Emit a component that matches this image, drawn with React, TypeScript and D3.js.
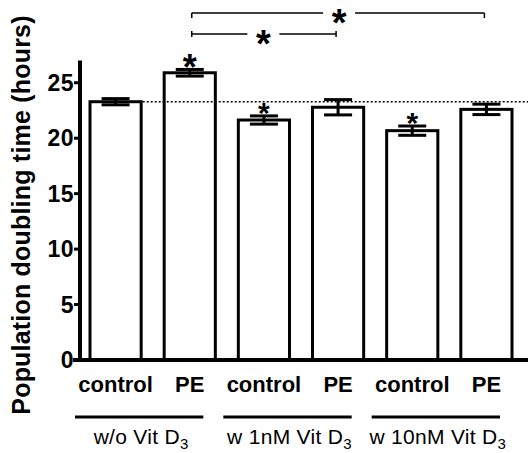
import React, { useRef, useEffect } from 'react';
import * as d3 from 'd3';

const categories = ['control', 'PE', 'control', 'PE', 'control', 'PE'];
const means = [23.29, 25.9, 21.64, 22.79, 20.68, 22.6];
const errors = [0.28, 0.3, 0.37, 0.69, 0.42, 0.47];
const yTicks = [0, 5, 10, 15, 20, 25];
const groupLabels = ['w/o Vit D', 'w 1nM Vit D', 'w 10nM Vit D'];
const groupSub = '3';
const groupBars = [[0, 1], [2, 3], [4, 5]];
const starredBars = [1, 2, 4];
const brackets = [
  { from: 1, to: 5 },
  { from: 1, to: 3 },
];

const W = 528;
const H = 453;
const FONT = '"Liberation Sans", Arial, sans-serif';

const App = () => {
  const svgRef = useRef<SVGSVGElement>(null);

  useEffect(() => {
    const svg = d3.select(svgRef.current);
    svg.selectAll('*').remove();

    const x = d3.scaleBand<number>()
      .domain(d3.range(categories.length))
      .range([90, 512])
      .paddingInner(0.31)
      .paddingOuter(0);
    const bw = x.bandwidth();
    const cx = (i: number) => (x(i) as number) + bw / 2;

    const y = d3.scaleLinear().domain([0, 27]).range([360, 360 - 27 * 11.09]);

    // bars
    svg.append('g')
      .selectAll('rect')
      .data(means)
      .enter()
      .append('rect')
      .attr('x', (d, i) => x(i) as number)
      .attr('y', d => y(d))
      .attr('width', bw)
      .attr('height', d => y(0) - y(d))
      .attr('fill', 'white')
      .attr('stroke', 'black')
      .attr('stroke-width', 3);

    // error bars
    const capW = 28;
    const eb = svg.append('g').attr('stroke', 'black').attr('stroke-width', 3);
    means.forEach((m, i) => {
      const hi = y(m + errors[i]);
      const lo = y(m - errors[i]);
      eb.append('line').attr('x1', cx(i)).attr('x2', cx(i)).attr('y1', hi).attr('y2', lo);
      eb.append('line').attr('x1', cx(i) - capW / 2).attr('x2', cx(i) + capW / 2).attr('y1', hi).attr('y2', hi);
      eb.append('line').attr('x1', cx(i) - capW / 2).attr('x2', cx(i) + capW / 2).attr('y1', lo).attr('y2', lo);
    });

    // dotted reference at control level
    svg.append('line')
      .attr('x1', (x(0) as number) + bw + 1.5)
      .attr('x2', W)
      .attr('y1', y(means[0]))
      .attr('y2', y(means[0]))
      .attr('stroke', 'black')
      .attr('stroke-width', 1.5)
      .attr('stroke-dasharray', '2,2');

    // y axis
    const yAxis = svg.append('g').attr('transform', 'translate(80,0)');
    yAxis.append('line')
      .attr('x1', 0).attr('x2', 0)
      .attr('y1', y(27)).attr('y2', y(0) + 2)
      .attr('stroke', 'black').attr('stroke-width', 4);
    yTicks.forEach(t => {
      yAxis.append('line')
        .attr('x1', -6).attr('x2', 0)
        .attr('y1', y(t)).attr('y2', y(t))
        .attr('stroke', 'black').attr('stroke-width', 3);
      yAxis.append('text')
        .attr('x', -6)
        .attr('y', y(t))
        .attr('dy', '0.36em')
        .attr('text-anchor', 'end')
        .style('font-family', FONT)
        .style('font-weight', 'bold')
        .style('font-size', '23px')
        .style('letter-spacing', '0.5px')
        .text(t);
    });

    // x axis
    svg.append('line')
      .attr('x1', 73).attr('x2', W)
      .attr('y1', y(0)).attr('y2', y(0))
      .attr('stroke', 'black').attr('stroke-width', 4);

    // category labels
    svg.append('g')
      .selectAll('text')
      .data(categories)
      .enter()
      .append('text')
      .attr('x', (d, i) => cx(i))
      .attr('y', 392)
      .attr('text-anchor', 'middle')
      .style('font-family', FONT)
      .style('font-weight', 'bold')
      .style('font-size', '22px')
      .text(d => d);

    // group lines and labels
    groupBars.forEach((g, k) => {
      const x1 = (x(g[0]) as number) - 15;
      const x2 = (x(g[1]) as number) + bw - 12;
      svg.append('line')
        .attr('x1', x1).attr('x2', x2)
        .attr('y1', 417).attr('y2', 417)
        .attr('stroke', 'black').attr('stroke-width', 3);
      const t = svg.append('text')
        .attr('x', (x1 + x2) / 2 + 2)
        .attr('y', 444)
        .attr('text-anchor', 'middle')
        .style('font-family', FONT)
        .style('font-size', '21px')
        .style('letter-spacing', '0.3px');
      t.append('tspan').text(groupLabels[k]);
      t.append('tspan').attr('dy', 5).style('font-size', '15px').text(groupSub);
    });

    // stars above bars
    const star = (px: number, centerY: number, size: number) => {
      svg.append('text')
        .attr('x', px)
        .attr('y', centerY + size * 0.56)
        .attr('text-anchor', 'middle')
        .style('font-family', FONT)
        .style('font-weight', 'bold')
        .style('font-size', `${size}px`)
        .text('*');
    };
    starredBars.forEach(i => {
      const top = y(means[i] + errors[i]);
      star(cx(i), top - 10, i === 1 ? 36 : 30);
    });

    // significance brackets
    const bracketY = [13, 34];
    brackets.forEach((b, k) => {
      const by = bracketY[k];
      const x1 = cx(b.from) + 2;
      const x2 = cx(b.to) - 2;
      const sx = (x1 + x2) / 2 + (k === 0 ? 1 : -0.5);
      const gap = 16;
      const br = svg.append('g').attr('stroke', 'black').attr('stroke-width', 1.5).attr('fill', 'none');
      br.append('line').attr('x1', x1).attr('x2', sx - gap).attr('y1', by).attr('y2', by);
      br.append('line').attr('x1', sx + gap).attr('x2', x2).attr('y1', by).attr('y2', by);
      if (k === 0) {
        br.append('line').attr('x1', x1).attr('x2', x1).attr('y1', by).attr('y2', by + 5);
        br.append('line').attr('x1', x2).attr('x2', x2).attr('y1', by).attr('y2', by + 5);
      } else {
        br.append('line').attr('x1', x1).attr('x2', x1).attr('y1', by - 3).attr('y2', by + 3);
        br.append('line').attr('x1', x2).attr('x2', x2).attr('y1', by - 3).attr('y2', by + 3);
      }
      star(sx, by + 1.5, 38);
    });

    // y axis title
    svg.append('text')
      .attr('transform', 'translate(30,215) rotate(-90)')
      .attr('text-anchor', 'middle')
      .style('font-family', FONT)
      .style('font-weight', 'bold')
      .style('font-size', '25px')
      .style('letter-spacing', '0.2px')
      .text('Population doubling time (hours)');
  }, []);

  return (
    <svg
      ref={svgRef}
      width={W}
      height={H}
      viewBox={`0 0 ${W} ${H}`}
      style={{ position: 'absolute', left: 0, top: 0, background: 'white' }}
    ></svg>
  );
};

export default App;
